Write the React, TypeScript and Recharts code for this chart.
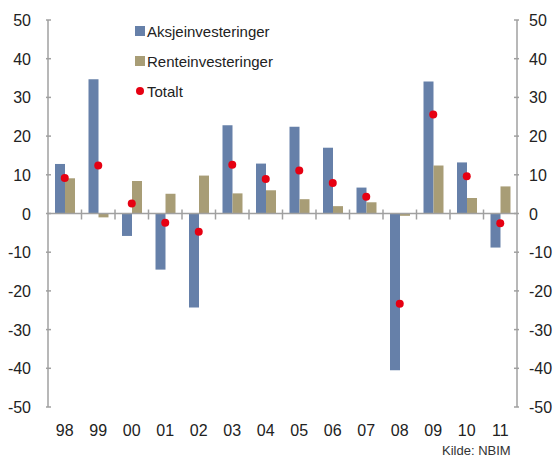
import { ComposedChart, Bar, Line, XAxis, YAxis, ReferenceLine } from 'recharts';

const years = ['98', '99', '00', '01', '02', '03', '04', '05', '06', '07', '08', '09', '10', '11'];
const aksje = [12.8, 34.7, -5.8, -14.5, -24.3, 22.8, 12.9, 22.4, 17.0, 6.7, -40.5, 34.1, 13.2, -8.8];
const rente = [9.1, -1.0, 8.4, 5.1, 9.8, 5.2, 6.0, 3.7, 1.9, 2.9, -0.6, 12.4, 4.0, 7.0];
const totalt = [9.2, 12.4, 2.6, -2.4, -4.7, 12.6, 8.9, 11.1, 7.9, 4.3, -23.3, 25.6, 9.6, -2.5];
const yTicks = [-50, -40, -30, -20, -10, 0, 10, 20, 30, 40, 50];

const BLUE = '#6680a9';
const OLIVE = '#a89d76';
const RED = '#e60012';
const AXIS = '#a0a0a0';
const FONT = 'Liberation Sans, Arial, sans-serif';

const W = 558;
const H = 458;
const TOP = 20;
const BOTTOM = 51;
const LEFT = 48;
const RIGHT = 41;
const plotH = H - TOP - BOTTOM;
const bandW = (W - LEFT - RIGHT) / years.length;

const data = years.map((year, i) => ({
  year,
  aksje: aksje[i],
  rente: rente[i],
  totalt: totalt[i],
}));

const LeftTick = (props: any) => {
  const { x, y, payload } = props;
  return (
    <g>
      <line x1={x} x2={x + 5} y1={y} y2={y} stroke={AXIS} strokeWidth={1.5} />
      <text x={x - 15} y={y} dy={6} textAnchor="end" fontSize={16} fill="#222" fontFamily={FONT}>
        {payload.value}
      </text>
    </g>
  );
};

const RightTick = (props: any) => {
  const { x, y, payload } = props;
  return (
    <g>
      <line x1={x - 5} x2={x} y1={y} y2={y} stroke={AXIS} strokeWidth={1.5} />
      <text x={x + 10} y={y} dy={6} textAnchor="start" fontSize={16} fill="#222" fontFamily={FONT}>
        {payload.value}
      </text>
    </g>
  );
};

const YearTick = (props: any) => {
  const { x, payload, index } = props;
  // zero line sits in the middle of the plot (domain is -50..50)
  const zeroY = TOP + plotH / 2;
  const bx = x + bandW / 2;
  return (
    <g>
      {index < years.length - 1 && (
        <line x1={bx} x2={bx} y1={zeroY - 4} y2={zeroY + 6} stroke={AXIS} strokeWidth={1.5} />
      )}
      <text x={x} y={TOP + plotH + 29} textAnchor="middle" fontSize={16} fill="#222" fontFamily={FONT}>
        {payload.value}
      </text>
    </g>
  );
};

const legendItems = [
  { label: 'Aksjeinvesteringer', color: BLUE, dot: false },
  { label: 'Renteinvesteringer', color: OLIVE, dot: false },
  { label: 'Totalt', color: RED, dot: true },
];

const LegendBox = () => (
  <div
    style={{
      position: 'absolute',
      left: 135,
      top: 16,
      fontFamily: FONT,
      fontSize: 15,
      color: '#222',
      whiteSpace: 'nowrap',
    }}
  >
    {legendItems.map((it) => (
      <div key={it.label} style={{ display: 'flex', alignItems: 'center', height: 30 }}>
        <span
          style={{
            display: 'inline-block',
            width: it.dot ? 8 : 10,
            height: it.dot ? 8 : 10,
            borderRadius: it.dot ? '50%' : 0,
            background: it.color,
            marginLeft: it.dot ? 1 : 0,
            marginRight: it.dot ? 3 : 2,
          }}
        />
        <span>{it.label}</span>
      </div>
    ))}
  </div>
);

export default function App() {
  return (
    <div style={{ position: 'absolute', left: 0, top: 0, width: W, height: H, background: '#fff' }}>
      <ComposedChart
        width={W}
        height={H}
        data={data}
        margin={{ top: TOP, right: 0, left: 0, bottom: BOTTOM - 30 }}
        barCategoryGap={7}
        barGap={0}
      >
        <XAxis
          dataKey="year"
          height={30}
          axisLine={false}
          tickLine={false}
          tick={<YearTick />}
          interval={0}
        />
        <YAxis
          yAxisId="left"
          width={LEFT}
          domain={[-50, 50]}
          ticks={yTicks}
          axisLine={{ stroke: AXIS, strokeWidth: 1.5 }}
          tickLine={false}
          tickSize={0}
          tick={<LeftTick />}
          interval={0}
        />
        <YAxis
          yAxisId="right"
          orientation="right"
          width={RIGHT}
          domain={[-50, 50]}
          ticks={yTicks}
          axisLine={{ stroke: AXIS, strokeWidth: 1.5 }}
          tickLine={false}
          tickSize={0}
          tick={<RightTick />}
          interval={0}
        />
        <ReferenceLine yAxisId="left" y={0} stroke={AXIS} strokeWidth={1.5} />
        <Bar yAxisId="left" dataKey="aksje" name="Aksjeinvesteringer" fill={BLUE} isAnimationActive={false} />
        <Bar yAxisId="left" dataKey="rente" name="Renteinvesteringer" fill={OLIVE} isAnimationActive={false} />
        <Line
          yAxisId="right"
          dataKey="totalt"
          name="Totalt"
          stroke="none"
          dot={{ r: 4, fill: RED, stroke: 'none' }}
          activeDot={false}
          isAnimationActive={false}
        />
      </ComposedChart>
      <LegendBox />
      <div
        style={{
          position: 'absolute',
          left: 442,
          top: 443,
          fontFamily: FONT,
          fontSize: 13,
          color: '#333',
          whiteSpace: 'nowrap',
        }}
      >
        Kilde: NBIM
      </div>
    </div>
  );
}
